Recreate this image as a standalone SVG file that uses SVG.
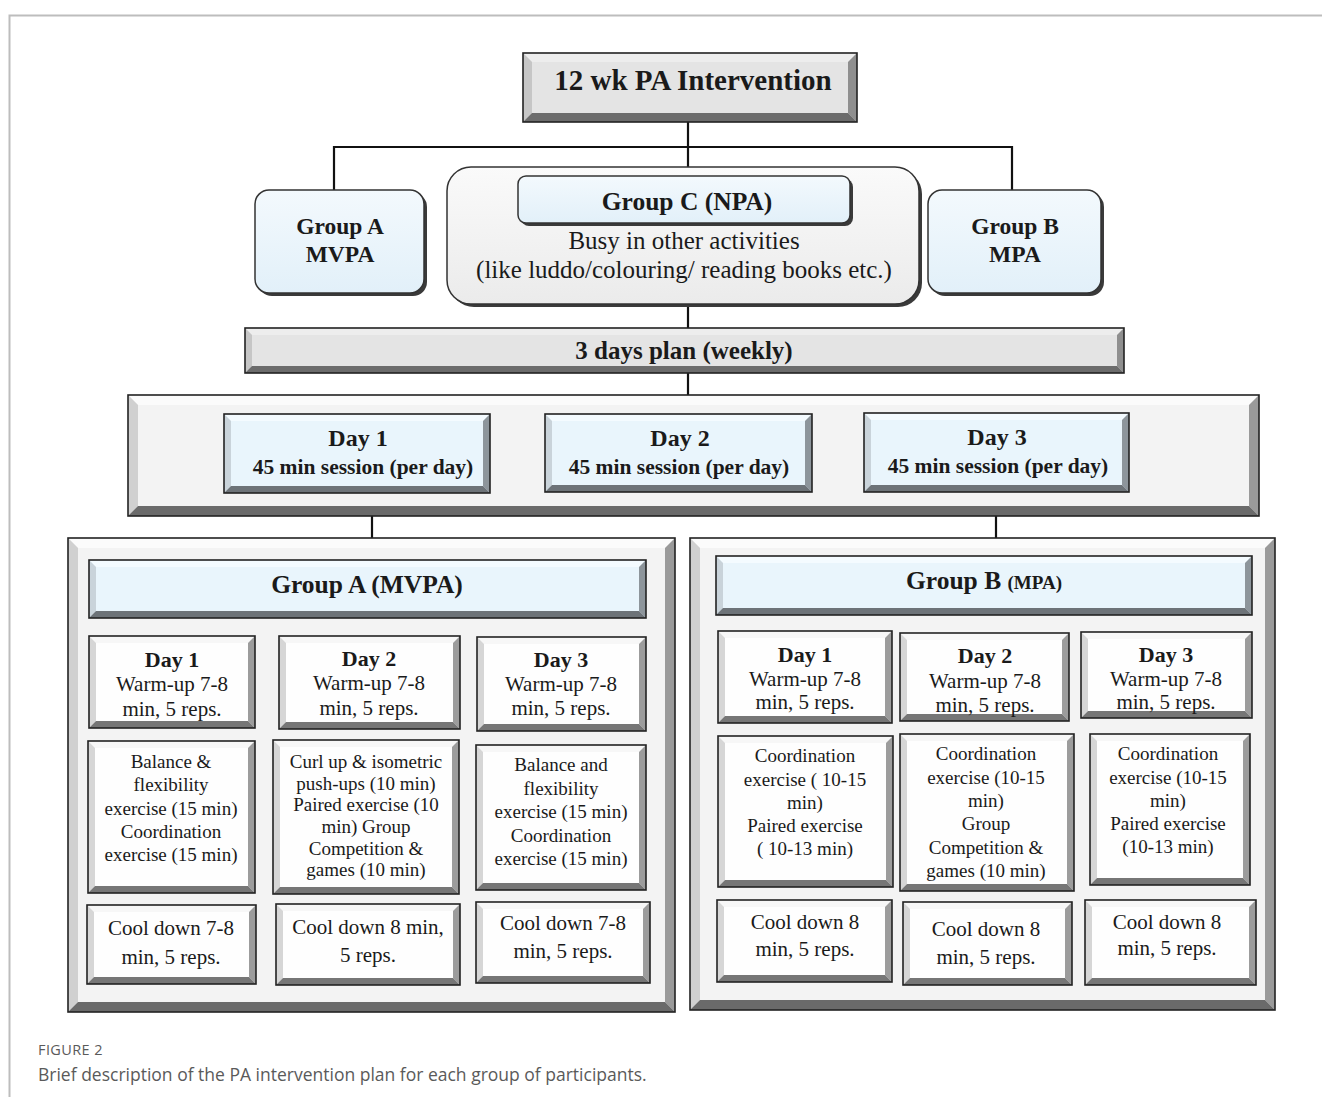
<svg xmlns="http://www.w3.org/2000/svg" width="1322" height="1097" viewBox="0 0 1322 1097">
<defs>
<style>
.t{font-family:"Liberation Serif","Times New Roman",serif;text-anchor:middle;fill:#1a1a1a}
.b{font-weight:bold}
.s19{font-size:19px}.s20{font-size:20.5px}.s21{font-size:21px}.s22{font-size:23.5px}.s24{font-size:24px}.s25{font-size:25px}.s29{font-size:29px}
.edge{fill:none;stroke:#222;stroke-width:1.6}
.fw{fill:#fefefe}.fb{fill:#e9f5fc}.fg{fill:#e4e4e4}.fp{fill:#f3f3f3}
.tw{fill:#f7f7f7}.lw{fill:#d6d6d6}.rw{fill:#9c9c9c}.bw{fill:#767676}
.tb{fill:#f4fbff}.lb{fill:#c9d3da}.rb{fill:#8d959b}.bb{fill:#6d7378}
.tg{fill:#ededed}.lg{fill:#c6c6c6}.rg{fill:#8f8f8f}.bg{fill:#6c6c6c}
.tp{fill:#fbfbfb}.lp{fill:#d0d0d0}.rp{fill:#9a9a9a}.bp{fill:#6a6a6a}
.conn line{stroke:#111;stroke-width:2.2}
.cap{font-family:"Open Sans","Noto Sans",sans-serif;fill:#5a5a5a}
</style>
<linearGradient id="gBlue" x1="0" y1="0" x2="0" y2="1"><stop offset="0" stop-color="#f3f9fd"/><stop offset="1" stop-color="#e2f0f9"/></linearGradient>
<linearGradient id="gGray" x1="0" y1="0" x2="0" y2="1"><stop offset="0" stop-color="#fafafa"/><stop offset="1" stop-color="#ebebeb"/></linearGradient>
</defs>
<rect width="1322" height="1097" fill="#fff"/>
<g id="frame"><path d="M9.5 1097 V15.5 H1322" fill="none" stroke="#bdbdbd" stroke-width="2"/></g>

<g class="conn" id="connectors">
<line x1="688" y1="122" x2="688" y2="147"/>
<line x1="333" y1="147" x2="1013" y2="147"/>
<line x1="334" y1="146" x2="334" y2="190"/>
<line x1="688" y1="146" x2="688" y2="167"/>
<line x1="1012" y1="146" x2="1012" y2="190"/>
<line x1="688" y1="304" x2="688" y2="328"/>
<line x1="688" y1="373" x2="688" y2="395"/>
<line x1="372" y1="516" x2="372" y2="538"/>
<line x1="996" y1="516" x2="996" y2="538"/>
</g>

<g id="n-title">
<rect x="523" y="53" width="334" height="69" class="fg"/>
<polygon class="tg" points="523,53 857,53 848,62 532,62"/>
<polygon class="lg" points="523,53 532,62 532,113 523,122"/>
<polygon class="rg" points="857,53 857,122 848,113 848,62"/>
<polygon class="bg" points="523,122 857,122 848,113 532,113"/>
<rect x="523" y="53" width="334" height="69" class="edge"/>
<text x="693" y="90" class="t b s29">12 wk PA Intervention</text>
</g>

<g id="n-groupA">
<rect x="258" y="193" width="169" height="103" rx="14" fill="#3a3a3a"/>
<rect x="255" y="190" width="169" height="103" rx="14" fill="url(#gBlue)" stroke="#333" stroke-width="1.5"/>
<text x="340" y="234" class="t b s22">Group A</text>
<text x="340" y="262" class="t b s22">MVPA</text>
</g>

<g id="n-groupC">
<rect x="450" y="170" width="472" height="137" rx="24" fill="#3a3a3a"/>
<rect x="447" y="167" width="472" height="137" rx="24" fill="url(#gGray)" stroke="#333" stroke-width="1.5"/>
<rect x="521" y="179" width="332" height="47" rx="8" fill="#3a3a3a"/>
<rect x="518" y="176" width="332" height="47" rx="8" fill="url(#gBlue)" stroke="#333" stroke-width="1.5"/>
<text x="687" y="210" class="t b" style="font-size:25.5px">Group C (NPA)</text>
<text x="684" y="249" class="t s25">Busy in other activities</text>
<text x="684" y="278" class="t s25">(like luddo/colouring/ reading books etc.)</text>
</g>

<g id="n-groupB">
<rect x="931" y="193" width="173" height="103" rx="14" fill="#3a3a3a"/>
<rect x="928" y="190" width="173" height="103" rx="14" fill="url(#gBlue)" stroke="#333" stroke-width="1.5"/>
<text x="1015" y="234" class="t b s22">Group B</text>
<text x="1015" y="262" class="t b s22">MPA</text>
</g>

<g id="n-plan">
<rect x="245" y="328" width="879" height="45" class="fg"/>
<polygon class="tg" points="245,328 1124,328 1117,335 252,335"/>
<polygon class="lg" points="245,328 252,335 252,366 245,373"/>
<polygon class="rg" points="1124,328 1124,373 1117,366 1117,335"/>
<polygon class="bg" points="245,373 1124,373 1117,366 252,366"/>
<rect x="245" y="328" width="879" height="45" class="edge"/>
<text x="684" y="359" class="t b s25">3 days plan (weekly)</text>
</g>

<g id="n-days">
<rect x="128" y="395" width="1131" height="121" class="fp"/>
<polygon class="tp" points="128,395 1259,395 1249,405 138,405"/>
<polygon class="lp" points="128,395 138,405 138,506 128,516"/>
<polygon class="rp" points="1259,395 1259,516 1249,506 1249,405"/>
<polygon class="bp" points="128,516 1259,516 1249,506 138,506"/>
<rect x="128" y="395" width="1131" height="121" class="edge"/>
</g>

<g id="n-day1">
<rect x="224" y="414" width="266" height="79" class="fb"/>
<polygon class="tb" points="224,414 490,414 483,421 231,421"/>
<polygon class="lb" points="224,414 231,421 231,486 224,493"/>
<polygon class="rb" points="490,414 490,493 483,486 483,421"/>
<polygon class="bb" points="224,493 490,493 483,486 231,486"/>
<rect x="224" y="414" width="266" height="79" class="edge"/>
<text x="358" y="446" class="t b s24">Day 1</text>
<text x="363" y="474" class="t b" style="font-size:21.5px">45 min session (per day)</text>
</g>
<g id="n-day2">
<rect x="545" y="414" width="267" height="78" class="fb"/>
<polygon class="tb" points="545,414 812,414 805,421 552,421"/>
<polygon class="lb" points="545,414 552,421 552,485 545,492"/>
<polygon class="rb" points="812,414 812,492 805,485 805,421"/>
<polygon class="bb" points="545,492 812,492 805,485 552,485"/>
<rect x="545" y="414" width="267" height="78" class="edge"/>
<text x="680" y="446" class="t b s24">Day 2</text>
<text x="679" y="474" class="t b" style="font-size:21.5px">45 min session (per day)</text>
</g>
<g id="n-day3">
<rect x="864" y="413" width="265" height="79" class="fb"/>
<polygon class="tb" points="864,413 1129,413 1122,420 871,420"/>
<polygon class="lb" points="864,413 871,420 871,485 864,492"/>
<polygon class="rb" points="1129,413 1129,492 1122,485 1122,420"/>
<polygon class="bb" points="864,492 1129,492 1122,485 871,485"/>
<rect x="864" y="413" width="265" height="79" class="edge"/>
<text x="997" y="445" class="t b s24">Day 3</text>
<text x="998" y="473" class="t b" style="font-size:21.5px">45 min session (per day)</text>
</g>

<g id="n-panelA">
<rect x="68" y="538" width="607" height="474" class="fp"/>
<polygon class="tp" points="68,538 675,538 665,548 78,548"/>
<polygon class="lp" points="68,538 78,548 78,1002 68,1012"/>
<polygon class="rp" points="675,538 675,1012 665,1002 665,548"/>
<polygon class="bp" points="68,1012 675,1012 665,1002 78,1002"/>
<rect x="68" y="538" width="607" height="474" class="edge"/>
</g>
<g id="n-headA">
<rect x="89" y="560" width="557" height="58" class="fb"/>
<polygon class="tb" points="89,560 646,560 639,567 96,567"/>
<polygon class="lb" points="89,560 96,567 96,611 89,618"/>
<polygon class="rb" points="646,560 646,618 639,611 639,567"/>
<polygon class="bb" points="89,618 646,618 639,611 96,611"/>
<rect x="89" y="560" width="557" height="58" class="edge"/>
<text x="367" y="593" class="t b" style="font-size:25.5px">Group A (MVPA)</text>
</g>

<g id="n-A11">
<rect x="89" y="636" width="166" height="92" class="fw"/>
<polygon class="tw" points="89,636 255,636 248,643 96,643"/>
<polygon class="lw" points="89,636 96,643 96,721 89,728"/>
<polygon class="rw" points="255,636 255,728 248,721 248,643"/>
<polygon class="bw" points="89,728 255,728 248,721 96,721"/>
<rect x="89" y="636" width="166" height="92" class="edge"/>
<text x="172" y="667" class="t b s22" style="font-size:22px">Day 1</text>
<text x="172" y="691" class="t s21">Warm-up 7-8</text>
<text x="172" y="716" class="t s21">min, 5 reps.</text>
</g>
<g id="n-A12">
<rect x="279" y="636" width="181" height="93" class="fw"/>
<polygon class="tw" points="279,636 460,636 453,643 286,643"/>
<polygon class="lw" points="279,636 286,643 286,722 279,729"/>
<polygon class="rw" points="460,636 460,729 453,722 453,643"/>
<polygon class="bw" points="279,729 460,729 453,722 286,722"/>
<rect x="279" y="636" width="181" height="93" class="edge"/>
<text x="369" y="666" class="t b" style="font-size:22px">Day 2</text>
<text x="369" y="690" class="t s21">Warm-up 7-8</text>
<text x="369" y="715" class="t s21">min, 5 reps.</text>
</g>
<g id="n-A13">
<rect x="477" y="637" width="169" height="94" class="fw"/>
<polygon class="tw" points="477,637 646,637 639,644 484,644"/>
<polygon class="lw" points="477,637 484,644 484,724 477,731"/>
<polygon class="rw" points="646,637 646,731 639,724 639,644"/>
<polygon class="bw" points="477,731 646,731 639,724 484,724"/>
<rect x="477" y="637" width="169" height="94" class="edge"/>
<text x="561" y="667" class="t b" style="font-size:22px">Day 3</text>
<text x="561" y="691" class="t s21">Warm-up 7-8</text>
<text x="561" y="715" class="t s21">min, 5 reps.</text>
</g>
<g id="n-A21">
<rect x="88" y="741" width="167" height="152" class="fw"/>
<polygon class="tw" points="88,741 255,741 248,748 95,748"/>
<polygon class="lw" points="88,741 95,748 95,886 88,893"/>
<polygon class="rw" points="255,741 255,893 248,886 248,748"/>
<polygon class="bw" points="88,893 255,893 248,886 95,886"/>
<rect x="88" y="741" width="167" height="152" class="edge"/>
<text x="171" y="768" class="t s19">Balance &amp;</text>
<text x="171" y="791" class="t s19">flexibility</text>
<text x="171" y="815" class="t s19">exercise (15 min)</text>
<text x="171" y="838" class="t s19">Coordination</text>
<text x="171" y="861" class="t s19">exercise (15 min)</text>
</g>
<g id="n-A22">
<rect x="273" y="740" width="186" height="154" class="fw"/>
<polygon class="tw" points="273,740 459,740 452,747 280,747"/>
<polygon class="lw" points="273,740 280,747 280,887 273,894"/>
<polygon class="rw" points="459,740 459,894 452,887 452,747"/>
<polygon class="bw" points="273,894 459,894 452,887 280,887"/>
<rect x="273" y="740" width="186" height="154" class="edge"/>
<text x="366" y="768" class="t s19">Curl up &amp; isometric</text>
<text x="366" y="790" class="t s19">push-ups (10 min)</text>
<text x="366" y="811" class="t s19">Paired exercise (10</text>
<text x="366" y="833" class="t s19">min) Group</text>
<text x="366" y="855" class="t s19">Competition &amp;</text>
<text x="366" y="876" class="t s19">games (10 min)</text>
</g>
<g id="n-A23">
<rect x="476" y="745" width="170" height="145" class="fw"/>
<polygon class="tw" points="476,745 646,745 639,752 483,752"/>
<polygon class="lw" points="476,745 483,752 483,883 476,890"/>
<polygon class="rw" points="646,745 646,890 639,883 639,752"/>
<polygon class="bw" points="476,890 646,890 639,883 483,883"/>
<rect x="476" y="745" width="170" height="145" class="edge"/>
<text x="561" y="771" class="t s19">Balance and</text>
<text x="561" y="795" class="t s19">flexibility</text>
<text x="561" y="818" class="t s19">exercise (15 min)</text>
<text x="561" y="842" class="t s19">Coordination</text>
<text x="561" y="865" class="t s19">exercise (15 min)</text>
</g>
<g id="n-A31">
<rect x="87" y="905" width="169" height="79" class="fw"/>
<polygon class="tw" points="87,905 256,905 249,912 94,912"/>
<polygon class="lw" points="87,905 94,912 94,977 87,984"/>
<polygon class="rw" points="256,905 256,984 249,977 249,912"/>
<polygon class="bw" points="87,984 256,984 249,977 94,977"/>
<rect x="87" y="905" width="169" height="79" class="edge"/>
<text x="171" y="935" class="t s21">Cool down 7-8</text>
<text x="171" y="964" class="t s21">min, 5 reps.</text>
</g>
<g id="n-A32">
<rect x="276" y="904" width="184" height="81" class="fw"/>
<polygon class="tw" points="276,904 460,904 453,911 283,911"/>
<polygon class="lw" points="276,904 283,911 283,978 276,985"/>
<polygon class="rw" points="460,904 460,985 453,978 453,911"/>
<polygon class="bw" points="276,985 460,985 453,978 283,978"/>
<rect x="276" y="904" width="184" height="81" class="edge"/>
<text x="368" y="934" class="t s21">Cool down 8 min,</text>
<text x="368" y="962" class="t s21">5 reps.</text>
</g>
<g id="n-A33">
<rect x="476" y="902" width="174" height="81" class="fw"/>
<polygon class="tw" points="476,902 650,902 643,909 483,909"/>
<polygon class="lw" points="476,902 483,909 483,976 476,983"/>
<polygon class="rw" points="650,902 650,983 643,976 643,909"/>
<polygon class="bw" points="476,983 650,983 643,976 483,976"/>
<rect x="476" y="902" width="174" height="81" class="edge"/>
<text x="563" y="930" class="t s21">Cool down 7-8</text>
<text x="563" y="958" class="t s21">min, 5 reps.</text>
</g>

<g id="n-panelB">
<rect x="690" y="538" width="585" height="472" class="fp"/>
<polygon class="tp" points="690,538 1275,538 1265,548 700,548"/>
<polygon class="lp" points="690,538 700,548 700,1000 690,1010"/>
<polygon class="rp" points="1275,538 1275,1010 1265,1000 1265,548"/>
<polygon class="bp" points="690,1010 1275,1010 1265,1000 700,1000"/>
<rect x="690" y="538" width="585" height="472" class="edge"/>
</g>
<g id="n-headB">
<rect x="716" y="556" width="536" height="59" class="fb"/>
<polygon class="tb" points="716,556 1252,556 1245,563 723,563"/>
<polygon class="lb" points="716,556 723,563 723,608 716,615"/>
<polygon class="rb" points="1252,556 1252,615 1245,608 1245,563"/>
<polygon class="bb" points="716,615 1252,615 1245,608 723,608"/>
<rect x="716" y="556" width="536" height="59" class="edge"/>
<text x="984" y="589" class="t b" style="font-size:25.5px">Group B <tspan style="font-size:19px">(MPA)</tspan></text>
</g>

<g id="n-B11">
<rect x="718" y="631" width="174" height="92" class="fw"/>
<polygon class="tw" points="718,631 892,631 885,638 725,638"/>
<polygon class="lw" points="718,631 725,638 725,716 718,723"/>
<polygon class="rw" points="892,631 892,723 885,716 885,638"/>
<polygon class="bw" points="718,723 892,723 885,716 725,716"/>
<rect x="718" y="631" width="174" height="92" class="edge"/>
<text x="805" y="662" class="t b" style="font-size:22px">Day 1</text>
<text x="805" y="686" class="t s21">Warm-up 7-8</text>
<text x="805" y="709" class="t s21">min, 5 reps.</text>
</g>
<g id="n-B12">
<rect x="900" y="633" width="169" height="88" class="fw"/>
<polygon class="tw" points="900,633 1069,633 1062,640 907,640"/>
<polygon class="lw" points="900,633 907,640 907,714 900,721"/>
<polygon class="rw" points="1069,633 1069,721 1062,714 1062,640"/>
<polygon class="bw" points="900,721 1069,721 1062,714 907,714"/>
<rect x="900" y="633" width="169" height="88" class="edge"/>
<text x="985" y="663" class="t b" style="font-size:22px">Day 2</text>
<text x="985" y="688" class="t s21">Warm-up 7-8</text>
<text x="985" y="712" class="t s21">min, 5 reps.</text>
</g>
<g id="n-B13">
<rect x="1081" y="632" width="171" height="86" class="fw"/>
<polygon class="tw" points="1081,632 1252,632 1245,639 1088,639"/>
<polygon class="lw" points="1081,632 1088,639 1088,711 1081,718"/>
<polygon class="rw" points="1252,632 1252,718 1245,711 1245,639"/>
<polygon class="bw" points="1081,718 1252,718 1245,711 1088,711"/>
<rect x="1081" y="632" width="171" height="86" class="edge"/>
<text x="1166" y="662" class="t b" style="font-size:22px">Day 3</text>
<text x="1166" y="686" class="t s21">Warm-up 7-8</text>
<text x="1166" y="709" class="t s21">min, 5 reps.</text>
</g>
<g id="n-B21">
<rect x="718" y="736" width="175" height="151" class="fw"/>
<polygon class="tw" points="718,736 893,736 886,743 725,743"/>
<polygon class="lw" points="718,736 725,743 725,880 718,887"/>
<polygon class="rw" points="893,736 893,887 886,880 886,743"/>
<polygon class="bw" points="718,887 893,887 886,880 725,880"/>
<rect x="718" y="736" width="175" height="151" class="edge"/>
<text x="805" y="762" class="t s19">Coordination</text>
<text x="805" y="786" class="t s19">exercise ( 10-15</text>
<text x="805" y="809" class="t s19">min)</text>
<text x="805" y="832" class="t s19">Paired exercise</text>
<text x="805" y="855" class="t s19">( 10-13 min)</text>
</g>
<g id="n-B22">
<rect x="900" y="734" width="174" height="157" class="fw"/>
<polygon class="tw" points="900,734 1074,734 1067,741 907,741"/>
<polygon class="lw" points="900,734 907,741 907,884 900,891"/>
<polygon class="rw" points="1074,734 1074,891 1067,884 1067,741"/>
<polygon class="bw" points="900,891 1074,891 1067,884 907,884"/>
<rect x="900" y="734" width="174" height="157" class="edge"/>
<text x="986" y="760" class="t s19">Coordination</text>
<text x="986" y="784" class="t s19">exercise (10-15</text>
<text x="986" y="807" class="t s19">min)</text>
<text x="986" y="830" class="t s19">Group</text>
<text x="986" y="854" class="t s19">Competition &amp;</text>
<text x="986" y="877" class="t s19">games (10 min)</text>
</g>
<g id="n-B23">
<rect x="1090" y="734" width="160" height="151" class="fw"/>
<polygon class="tw" points="1090,734 1250,734 1243,741 1097,741"/>
<polygon class="lw" points="1090,734 1097,741 1097,878 1090,885"/>
<polygon class="rw" points="1250,734 1250,885 1243,878 1243,741"/>
<polygon class="bw" points="1090,885 1250,885 1243,878 1097,878"/>
<rect x="1090" y="734" width="160" height="151" class="edge"/>
<text x="1168" y="760" class="t s19">Coordination</text>
<text x="1168" y="784" class="t s19">exercise (10-15</text>
<text x="1168" y="807" class="t s19">min)</text>
<text x="1168" y="830" class="t s19">Paired exercise</text>
<text x="1168" y="853" class="t s19">(10-13 min)</text>
</g>
<g id="n-B31">
<rect x="717" y="900" width="175" height="82" class="fw"/>
<polygon class="tw" points="717,900 892,900 885,907 724,907"/>
<polygon class="lw" points="717,900 724,907 724,975 717,982"/>
<polygon class="rw" points="892,900 892,982 885,975 885,907"/>
<polygon class="bw" points="717,982 892,982 885,975 724,975"/>
<rect x="717" y="900" width="175" height="82" class="edge"/>
<text x="805" y="929" class="t s21">Cool down 8</text>
<text x="805" y="956" class="t s21">min, 5 reps.</text>
</g>
<g id="n-B32">
<rect x="903" y="902" width="169" height="83" class="fw"/>
<polygon class="tw" points="903,902 1072,902 1065,909 910,909"/>
<polygon class="lw" points="903,902 910,909 910,978 903,985"/>
<polygon class="rw" points="1072,902 1072,985 1065,978 1065,909"/>
<polygon class="bw" points="903,985 1072,985 1065,978 910,978"/>
<rect x="903" y="902" width="169" height="83" class="edge"/>
<text x="986" y="936" class="t s21">Cool down 8</text>
<text x="986" y="964" class="t s21">min, 5 reps.</text>
</g>
<g id="n-B33">
<rect x="1085" y="900" width="171" height="85" class="fw"/>
<polygon class="tw" points="1085,900 1256,900 1249,907 1092,907"/>
<polygon class="lw" points="1085,900 1092,907 1092,978 1085,985"/>
<polygon class="rw" points="1256,900 1256,985 1249,978 1249,907"/>
<polygon class="bw" points="1085,985 1256,985 1249,978 1092,978"/>
<rect x="1085" y="900" width="171" height="85" class="edge"/>
<text x="1167" y="929" class="t s21">Cool down 8</text>
<text x="1167" y="955" class="t s21">min, 5 reps.</text>
</g>

<g id="caption">
<text x="38" y="1055" class="cap" style="font-size:14.5px;letter-spacing:0.4px">FIGURE 2</text>
<text x="38" y="1081" class="cap" style="font-size:17.5px">Brief description of the PA intervention plan for each group of participants.</text>
</g>
</svg>
